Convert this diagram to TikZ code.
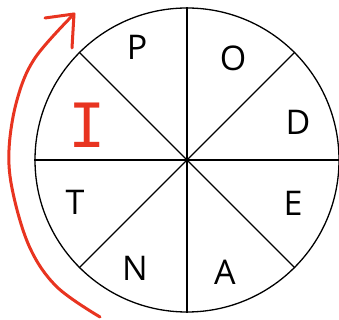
\documentclass[tikz,border=0pt]{standalone}
\usepackage{fontspec}
\setmainfont{Open Sans}
\usepackage{xcolor}
\usetikzlibrary{calc}
\definecolor{penred}{RGB}{232,52,32}

\begin{document}
\begin{tikzpicture}[x=1pt, y=1pt,
  font=\fontsize{34}{34}\selectfont,
  wheel/.style={circle, draw, line width=1.3pt, minimum size=304pt, inner sep=0pt},
  spoke/.style={line width=1.3pt},
  lett/.style={inner sep=0pt},
  hand/.style={penred, line width=3pt, line cap=round, line join=round}]
  \useasboundingbox (0,0) rectangle (339,320);
  % Rad
  \node[wheel] (w) at (187,160) {};
  \foreach \a/\b in {0/180, 45/225, 90/270, 135/315}
    \draw[spoke] (w.\a) -- (w.\b);
  % Buchstaben
  \node[lett] (p) at (137,273) {P};
  \node[lett] (o) at (233,262) {O};
  \node[lett] (d) at (298,198) {D};
  \node[lett] (e) at (293,117) {E};
  \node[lett] (a) at (225,48)  {A};
  \node[lett] (n) at (135,52)  {N};
  \node[lett] (t) at (75,118)  {T};
  \node[lett, penred, font={\fontspec{Liberation Mono}\fontsize{52}{52}\selectfont}] (i) at (87,195) {\scalebox{1.2}[1.3]{I}};
  % Pfeil
  \coordinate (tail) at (100,3);
  \coordinate (tip) at (74,306);
  \draw[hand] plot[smooth, tension=0.6] coordinates
    {(tail) (57,33) (30,72) (13,127) (9,170) (17,220) (35,262) (tip)};
  \draw[hand] (45,302) -- (tip) -- (72,272);
\end{tikzpicture}
\end{document}
